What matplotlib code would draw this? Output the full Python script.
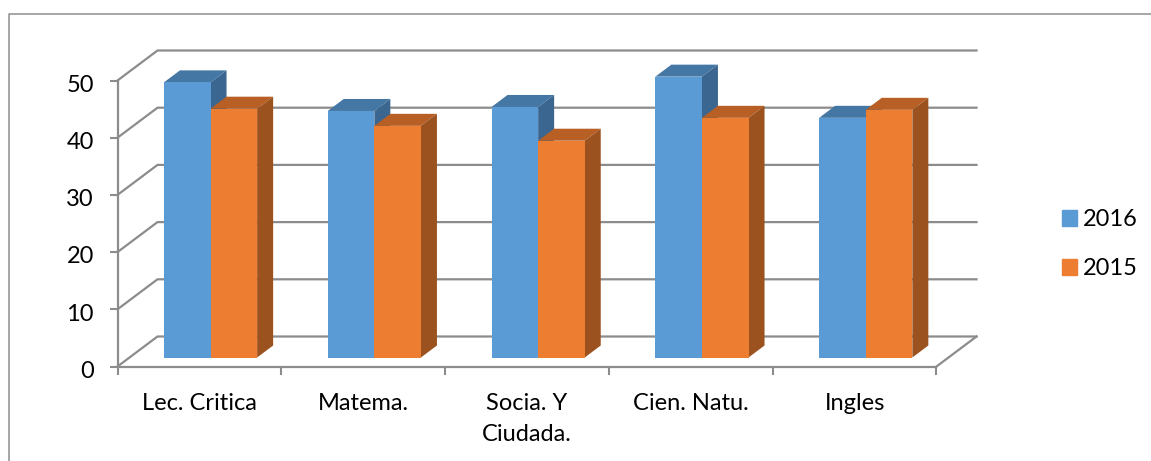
import matplotlib
matplotlib.use('Agg')
import matplotlib.pyplot as plt
from matplotlib.lines import Line2D
from matplotlib.patches import Patch
from matplotlib.transforms import ScaledTranslation
import numpy as np

categories = ['Lec. Critica', 'Matema.', 'Socia. Y\nCiudada.', 'Cien. Natu.', 'Ingles']
v2016 = [48.1, 43.1, 43.8, 49.1, 41.9]
v2015 = [43.5, 40.5, 37.9, 41.9, 43.3]
yticks = [0, 10, 20, 30, 40, 50]

plt.rcParams['font.family'] = ['Lato', 'DejaVu Sans']

W, H = 1151, 461
fig = plt.figure(figsize=(W / 100, H / 100), dpi=100)
# axes placed on the front plane of the fake 3d box
left, right, y0, y50 = 117.5, 936.5, 366.5, 80.5
ax = fig.add_axes([left / W, 1 - y0 / H, (right - left) / W, (y0 - y50) / H])
ax.set_xlim(0, 5)
ax.set_ylim(0, 50)

px = (right - left) / 5  # pixels per category
py = (y0 - y50) / 50  # pixels per unit

grid = '#8c8c8c'
wall_dx, wall_dy = 40 / px, 30 / py
bar_dx, bar_dy = 16 / px, 12 / py
base = 9 / py  # bars float a bit over the floor front edge
width = 46.6 / px
offset = 0.068


def shade_box(x, top, side, lid):
    x1 = x + width
    ax.fill([x, x1, x1 + bar_dx, x + bar_dx],
            [top, top, top + bar_dy, top + bar_dy], color=lid, lw=0, zorder=3, clip_on=False)
    ax.fill([x1, x1 + bar_dx, x1 + bar_dx, x1],
            [base, base + bar_dy, top + bar_dy, top], color=side, lw=0, zorder=3, clip_on=False)


# back wall lines
for t in yticks:
    ax.plot([0, wall_dx, 5 + wall_dx], [t, t + wall_dy, t + wall_dy], color=grid, lw=1.6,
            zorder=1, clip_on=False, solid_joinstyle='round')
ax.plot([5, 5 + wall_dx], [0, wall_dy], color=grid, lw=1.6, zorder=1, clip_on=False)

pos = np.arange(len(categories)) + 0.5 + offset
b1 = pos - width
b2 = pos
for i in range(len(categories)):
    # the 2015 bar sits in front of the 2016 side face
    shade_box(b1[i], base + v2016[i], '#3B6690', '#4577A5')
    shade_box(b2[i], base + v2015[i], '#9C521E', '#B75F24')
ax.bar(b1, v2016, width, bottom=base, align='edge', color='#5B9BD5', zorder=4, clip_on=False)
ax.bar(b2, v2015, width, bottom=base, align='edge', color='#ED7D31', zorder=4, clip_on=False)

for s in ['top', 'right']:
    ax.spines[s].set_visible(False)
for s in ['left', 'bottom']:
    ax.spines[s].set_color(grid)
    ax.spines[s].set_linewidth(1.6)
    ax.spines[s].set_zorder(2)
ax.patch.set_alpha(0)

ax.set_yticks(yticks)
ax.set_xticks(np.arange(6))
ax.set_xticklabels([])
ax.set_xticks(np.arange(5) + 0.5, categories, minor=True)
ax.tick_params(axis='y', length=6, width=1.5, color=grid, labelsize=17, pad=11)
ax.tick_params(axis='x', which='major', length=6, width=1.5, color=grid)
ax.tick_params(axis='x', which='minor', length=0, labelsize=17, pad=19)
for lab in ax.get_xticklabels(minor=True):
    lab.set_linespacing(1.62)
# value labels sit a little under their ticks
for lab in ax.get_yticklabels():
    lab.set_transform(lab.get_transform() + ScaledTranslation(0, -2 / 72, fig.dpi_scale_trans))

handles = [Patch(color='#5B9BD5', label='2016'), Patch(color='#ED7D31', label='2015')]
fig.legend(handles=handles, loc='upper left', bbox_to_anchor=(1062 / W, 1 - 209 / H), frameon=False,
           fontsize=17, handlelength=0.64, handleheight=0.64, handletextpad=0.25,
           labelspacing=1.2, borderpad=0, borderaxespad=0)

# outer frame of the pasted chart
fig.add_artist(Line2D([8.5 / W, 8.5 / W, 1], [0, 1 - 14.5 / H, 1 - 14.5 / H], color='#8e8e8e', lw=1.1))

fig.savefig('out.png', dpi=100)
